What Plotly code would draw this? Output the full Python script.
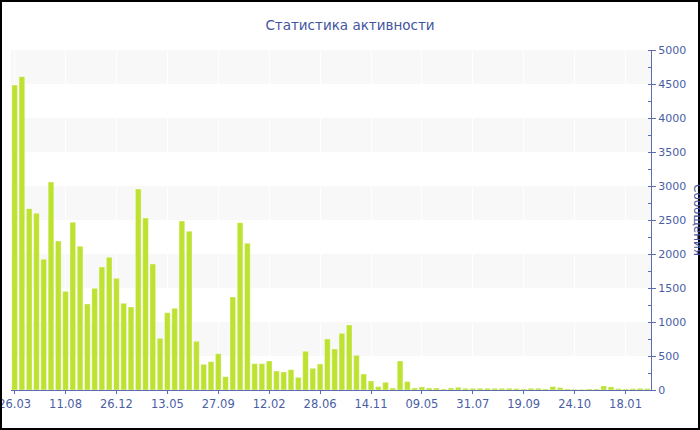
import plotly.graph_objects as go

title_text = "Статистика активности"
y_title = "Сообщения"

values = [4485, 4608, 2667, 2598, 1922, 3059, 2191, 1451, 2466, 2113, 1265, 1495,
          1809, 1951, 1642, 1275, 1221, 2956, 2529, 1853, 760, 1137, 1201, 2485,
          2333, 716, 377, 417, 534, 196, 1368, 2461,
          2157, 387, 387, 426, 279, 265, 299, 186, 569, 319, 382, 750, 603, 833,
          956, 510, 235, 132, 49, 113, 29, 426, 123, 29, 44, 29, 29, 15, 29, 39, 25,
          25, 25, 25, 25, 25, 25, 22, 15, 25, 25, 15, 50, 35, 15, 10, 10, 15, 15,
          60, 45, 20, 15, 20, 25, 20]

tick_labels = ["26.03", "11.08", "26.12", "13.05", "27.09", "12.02", "28.06",
               "14.11", "09.05", "31.07", "19.09", "24.10", "18.01"]
tick_step = 7

x = list(range(len(values)))
tick_vals = list(range(0, len(values), tick_step))[:len(tick_labels)]

W, H = 700, 430
ML, MR, MT, MB = 11, 49, 50, 40
PW, PH = W - ML - MR, H - MT - MB

lab_col = "#4a5ea6"
line_col = "#5a6db0"
font_family = "DejaVu Sans, Verdana, sans-serif"

fig = go.Figure()
fig.add_trace(go.Bar(
    x=x, y=values,
    marker=dict(color="#bde231", line=dict(color="rgba(255,255,255,0.35)", width=1)),
    hoverinfo="y",
))

shapes = []
for lo in range(500, 5000, 1000):
    shapes.append(dict(type="rect", xref="paper", yref="y", x0=0, x1=1, y0=lo, y1=lo + 500,
                       fillcolor="#f8f8f8", line=dict(width=0), layer="below"))
# outer border
shapes.append(dict(type="rect", xref="paper", yref="paper",
                   x0=(1 - ML) / PW, x1=(W - 1 - ML) / PW,
                   y0=-(H - 1 - MT - PH) / PH, y1=(PH + MT - 1) / PH,
                   line=dict(color="#000000", width=2), fillcolor="rgba(0,0,0,0)", layer="above"))

fig.update_layout(
    width=W, height=H,
    margin=dict(l=ML, r=MR, t=MT, b=MB, autoexpand=False),
    paper_bgcolor="#ffffff", plot_bgcolor="#ffffff",
    showlegend=False,
    bargap=0.22,
    font=dict(family=font_family, size=11, color=lab_col),
    title=dict(text=title_text, x=0.5, xanchor="center", y=1 - 25 / H, yanchor="middle",
               font=dict(family=font_family, size=13.5, color="#3f55a0")),
    shapes=shapes,
    annotations=[dict(text=y_title, xref="paper", yref="paper",
                      x=(698 - ML) / PW, y=0.5, xanchor="center", yanchor="middle",
                      textangle=90, showarrow=False,
                      font=dict(family=font_family, size=12, color="#3f55a0"))],
)

fig.update_xaxes(
    range=[-0.5, len(values) - 0.5],
    tickmode="array", tickvals=tick_vals, ticktext=tick_labels,
    ticks="outside", ticklen=3, tickcolor=line_col,
    showline=True, linecolor=line_col, linewidth=1,
    showgrid=True, gridcolor="#ffffff", gridwidth=1,
    zeroline=False, ticklabeloverflow="allow", ticklabelstandoff=0,
    tickfont=dict(size=11.5, color=lab_col),
)
fig.update_yaxes(
    side="right", range=[0, 5000], dtick=500, tick0=0,
    ticks="outside", ticklen=4, tickcolor=line_col,
    minor=dict(dtick=250, ticks="inside", ticklen=3, tickcolor=line_col, showgrid=False),
    showline=True, linecolor=line_col, linewidth=1,
    showgrid=False, zeroline=False, ticklabeloverflow="allow",
    tickfont=dict(size=11, color=lab_col),
)

fig.write_html("out.html", config={"displayModeBar": False},
               post_script="document.body.style.margin='0';document.body.style.padding='0';")
